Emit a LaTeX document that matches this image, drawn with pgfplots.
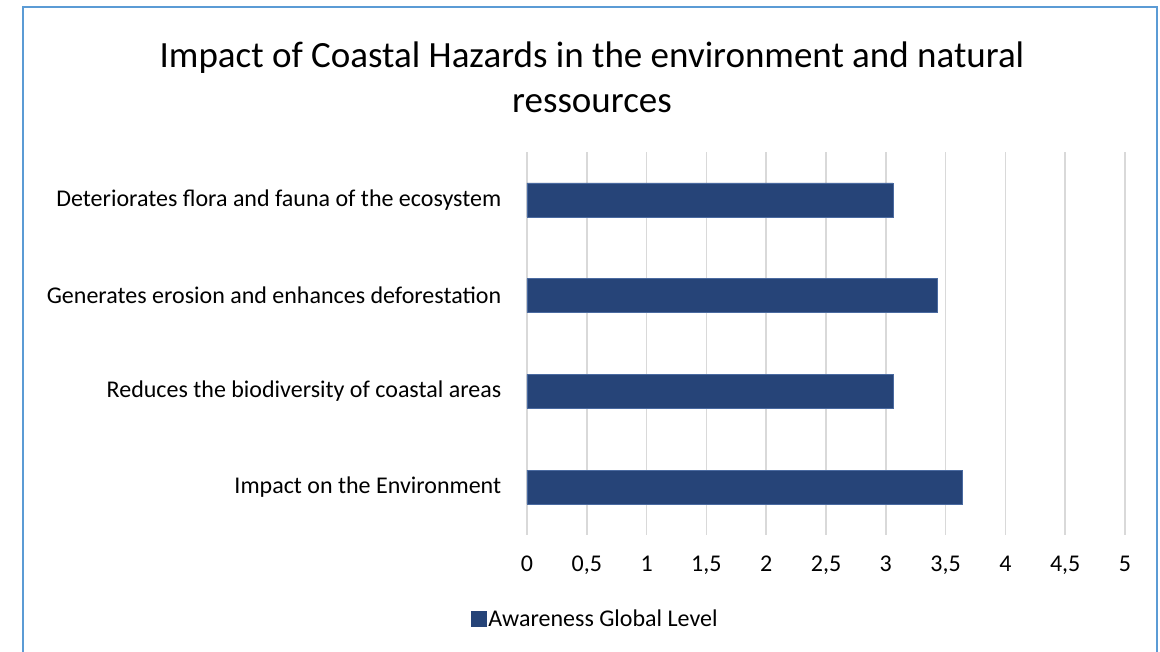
\documentclass[border=0pt]{standalone}
\usepackage{fontspec}
\setmainfont{Carlito}
\usepackage{pgfplots}
\pgfplotsset{compat=1.18}
\definecolor{barblue}{HTML}{264478}
\definecolor{baredge}{HTML}{4A6AA0}
\definecolor{gridgray}{HTML}{D9D9D9}
\definecolor{frameblue}{HTML}{5B9BD5}
\begin{document}
\begin{tikzpicture}[x=1pt,y=1pt]
\useasboundingbox (0,0) rectangle (1160,652);
% outer frame (bottom edge is cut off in the original)
\draw[frameblue, line width=2pt] (23,-5) -- (23,645) -- (1157,645) -- (1157,-5);
\node[align=center, font=\fontsize{37}{45}\selectfont] at (592,575)
  {Impact of Coastal Hazards in the environment and natural\\ressources};
\begin{axis}[
    at={(527pt,117pt)}, anchor=south west,
    scale only axis, width=598pt, height=383pt,
    xbar, bar width=34pt,
    xmin=0, xmax=5, ymin=-0.5, ymax=3.5,
    xtick={0,0.5,...,5},
    ytick={0,1,2,3},
    yticklabels={Impact on the Environment,
                 Reduces the biodiversity of coastal areas,
                 Generates erosion and enhances deforestation,
                 Deteriorates flora and fauna of the ecosystem},
    xmajorgrids, grid style={gridgray, line width=1.6pt},
    axis line style={draw=none},
    major tick style={draw=none},
    /pgf/number format/use comma,
    /pgf/number format/assume math mode=true,
    tick label style={font=\fontsize{24}{28}\selectfont},
    xticklabel style={yshift=-17pt, text height=16pt, text depth=5pt},
    yticklabel style={xshift=-18pt},
    legend style={at={(0.114,-0.219)}, anchor=center, draw=none,
                  font=\fontsize{24}{28}\selectfont,
                  nodes={inner xsep=2pt}},
    legend image code/.code={\fill[barblue] (0pt,-7.5pt) rectangle (15pt,7.5pt);},
]
\addplot[fill=barblue, draw=baredge, line width=0.6pt]
  coordinates {(3.64,0) (3.06,1) (3.43,2) (3.06,3)};
\addlegendentry{Awareness Global Level}
\end{axis}
\end{tikzpicture}
\end{document}
